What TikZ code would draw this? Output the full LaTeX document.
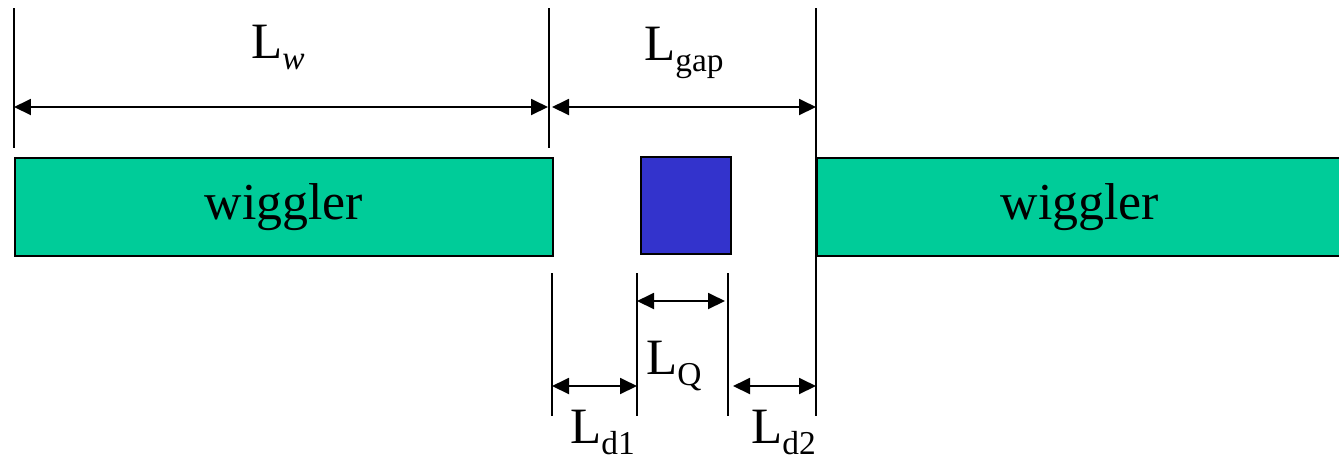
\documentclass[tikz,border=0pt]{standalone}
\usepackage{fontspec}
\setmainfont{Liberation Serif}
\usetikzlibrary{arrows.meta}
\definecolor{wigglergreen}{HTML}{00CC99}
\definecolor{quadblue}{HTML}{3333CC}
% length symbol L with a lowered, smaller subscript
\newcommand{\lensym}[1]{L\raisebox{-6.5pt}{\fontsize{19}{20}\selectfont #1}}
\begin{document}
\begin{tikzpicture}[x=0.02cm,y=-0.02cm,
  magnet/.style={draw=black, line width=1.1pt, fill=wigglergreen, inner sep=0pt,
    anchor=north west, font=\fontsize{29.5}{31}\selectfont},
  quad/.style={draw=black, line width=1.1pt, fill=quadblue, inner sep=0pt, anchor=north west},
  extline/.style={line width=1.1pt},
  dimarrow/.style={line width=1.1pt, {Triangle[length=0.34cm,width=0.32cm]}-{Triangle[length=0.34cm,width=0.32cm]}},
  dimlabel/.style={anchor=base west, inner sep=0pt, font=\fontsize{29}{31}\selectfont}]
\useasboundingbox (0,0) rectangle (1339,458);

% magnets
\node[magnet, minimum width=10.76cm, minimum height=1.96cm] (wl) at (14,157) {wiggler};
\node[magnet, minimum width=10.52cm, minimum height=1.96cm] (wr) at (816,157) {wiggler};
\node[quad, minimum width=1.8cm, minimum height=1.94cm] (q) at (640,156) {};

% extension lines
\coordinate (a1) at (14,8);    \coordinate (a2) at (14,148);
\coordinate (b1) at (549,8);   \coordinate (b2) at (549,148);
\coordinate (c1) at (816,8);   \coordinate (c2) at (816,416);
\coordinate (d1) at (552,273); \coordinate (d2) at (552,416);
\coordinate (e1) at (637,273); \coordinate (e2) at (637,416);
\coordinate (f1) at (728,273); \coordinate (f2) at (728,416);
\foreach \p in {a,b,c,d,e,f} \draw[extline] (\p1) -- (\p2);

% dimension arrows
\coordinate (lw1) at (14,107);  \coordinate (lw2) at (548,107);
\coordinate (lg1) at (552,107); \coordinate (lg2) at (816,107);
\coordinate (lq1) at (637,301); \coordinate (lq2) at (725,301);
\coordinate (ld1a) at (552,386); \coordinate (ld1b) at (637,386);
\coordinate (ld2a) at (733,386); \coordinate (ld2b) at (816,386);
\draw[dimarrow] (lw1) -- (lw2);
\draw[dimarrow] (lg1) -- (lg2);
\draw[dimarrow] (lq1) -- (lq2);
\draw[dimarrow] (ld1a) -- (ld1b);
\draw[dimarrow] (ld2a) -- (ld2b);

% labels
\node[dimlabel] (tw) at (251,58) {\lensym{\itshape w}};
\node[dimlabel] (tg) at (644,60) {\lensym{gap}};
\node[dimlabel] (tq) at (646,374) {\lensym{Q}};
\node[dimlabel] (td1) at (570,443) {\lensym{d1}};
\node[dimlabel] (td2) at (751,443) {\lensym{d2}};
\end{tikzpicture}
\end{document}
